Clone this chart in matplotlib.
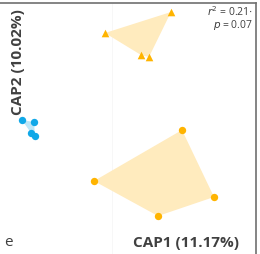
import matplotlib
matplotlib.use("Agg")
import matplotlib.pyplot as plt
from matplotlib.patches import Polygon

# CAP scores
tri_x = [-0.028, 0.236, 0.148, 0.116]
tri_y = [0.384, 0.468, 0.288, 0.296]
org_x = [0.280, 0.408, 0.184, -0.072]
org_y = [-0.004, -0.272, -0.348, -0.208]
blue_x = [-0.360, -0.312, -0.308, -0.324]
blue_y = [0.036, 0.028, -0.028, -0.016]

orange = "#FFB400"
orange_fill = "#FFEBBE"
blue = "#10A8E8"
blue_fill = "#BDE6F7"
text_col = "#404040"

plt.rcParams['font.family'] = ['Open Sans', 'DejaVu Sans']
fig = plt.figure(figsize=(2.6, 2.55), dpi=100)
ax = fig.add_axes([0, 0, 256/260, 251/255])
ax.set_xlim(-0.448, 0.576)
ax.set_ylim(-0.5, 0.504)

for xs, ys, fc in [(tri_x, tri_y, orange_fill), (org_x, org_y, orange_fill), (blue_x, blue_y, blue_fill)]:
    ax.add_patch(Polygon(list(zip(xs, ys)), closed=True, facecolor=fc, edgecolor='none', zorder=1))

ax.scatter(tri_x, tri_y, marker='^', s=30, color=orange, zorder=3, linewidths=0)
ax.scatter(org_x, org_y, marker='o', s=28, color=orange, zorder=3, linewidths=0)
ax.scatter(blue_x, blue_y, marker='o', s=28, color=blue, zorder=3, linewidths=0)

ax.axvline(0, color='#f6f6f6', lw=0.6, zorder=0)

for s in ['left', 'bottom']:
    ax.spines[s].set_visible(False)
for s in ['top', 'right']:
    ax.spines[s].set_color('#707070')
    ax.spines[s].set_linewidth(1.2)
ax.set_xticks([])
ax.set_yticks([])

fig.text(253/260, 1 - 12.5/255, r"$r^2$ = 0.21$\cdot$", ha='right', va='center', fontsize=7.5, color=text_col)
fig.text(253/260, 1 - 25.5/255, r"$p$ = 0.07", ha='right', va='center', fontsize=7.5, color=text_col)

fig.text(133/260, 1 - 243/255, "CAP1 (11.17%)", ha='left', va='center', fontsize=11, fontweight='bold', color=text_col)
fig.text(18/260, 1 - 62/255, "CAP2 (10.02%)", ha='center', va='center', rotation=90, fontsize=11, fontweight='bold', color=text_col)
fig.text(4/260, 1 - 243/255, "e", ha='left', va='center', fontsize=11, color=text_col)

fig.savefig("out.png", dpi=100)
